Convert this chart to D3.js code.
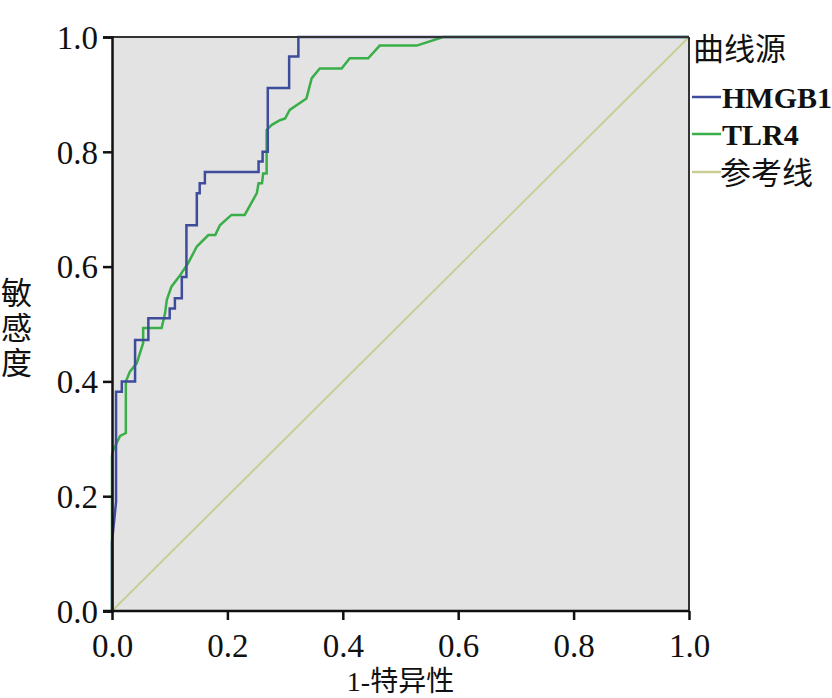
<!DOCTYPE html>
<html><head><meta charset="utf-8">
<script src="https://cdn.jsdelivr.net/npm/d3@7"></script>
<style>body{margin:0;background:#fff;}svg{display:block;}</style>
</head><body>
<svg id="c" width="832" height="698"></svg>
<script>
const xTicks = [0, 0.2, 0.4, 0.6, 0.8, 1.0];
const yTicks = [0, 0.2, 0.4, 0.6, 0.8, 1.0];
const seriesNames = ["HMGB1", "TLR4", "参考线"];
const seriesColors = ["#3f4c9c", "#3aae48", "#c8ce96"];
const hmgb1 = [[0,0],[0,0.12],[0.007,0.19],[0.007,0.382],[0.017,0.382],[0.017,0.40],[0.04,0.40],[0.04,0.472],[0.063,0.472],[0.063,0.51],[0.10,0.51],[0.10,0.527],[0.109,0.527],[0.109,0.545],[0.121,0.545],[0.121,0.582],[0.129,0.582],[0.129,0.672],[0.147,0.672],[0.147,0.728],[0.152,0.728],[0.152,0.745],[0.161,0.745],[0.161,0.765],[0.254,0.765],[0.254,0.783],[0.261,0.783],[0.261,0.80],[0.27,0.80],[0.27,0.911],[0.307,0.911],[0.307,0.966],[0.323,0.966],[0.323,1],[1,1]];
const tlr4 = [[0,0],[0,0.27],[0.002,0.28],[0.014,0.305],[0.024,0.31],[0.024,0.40],[0.031,0.417],[0.043,0.432],[0.054,0.467],[0.054,0.493],[0.086,0.493],[0.092,0.519],[0.095,0.542],[0.103,0.565],[0.118,0.585],[0.132,0.606],[0.147,0.635],[0.167,0.655],[0.179,0.655],[0.187,0.672],[0.207,0.69],[0.23,0.69],[0.251,0.728],[0.254,0.745],[0.26,0.745],[0.262,0.762],[0.268,0.762],[0.268,0.838],[0.277,0.847],[0.291,0.855],[0.30,0.858],[0.308,0.873],[0.337,0.893],[0.346,0.928],[0.36,0.945],[0.398,0.945],[0.412,0.963],[0.444,0.963],[0.464,0.985],[0.528,0.985],[0.574,1],[1,1]];
const refLine = [[0,0],[1,1]];
const yTitleChars = ["敏", "感", "度"];

const svg = d3.select("#c");
const L = 112, R = 689, T = 37, B = 611;
const x = d3.scaleLinear().domain([0,1]).range([L,R]);
const y = d3.scaleLinear().domain([0,1]).range([B,T]);

svg.append("rect").attr("x",L).attr("y",T).attr("width",R-L).attr("height",B-T).attr("fill","#e3e3e3");

const line = d3.line().x(d=>x(d[0])).y(d=>y(d[1]));
const data = [hmgb1, tlr4, refLine];
[2,1,0].forEach(i=>{
  svg.append("path").datum(data[i]).attr("d",line).attr("fill","none")
    .attr("stroke",seriesColors[i]).attr("stroke-width", i===2?2:2.5)
    .attr("stroke-linejoin","miter");
});

svg.append("line").attr("x1",L).attr("x2",R).attr("y1",T).attr("y2",T).attr("stroke","#333").attr("stroke-width",2);
svg.append("line").attr("x1",R).attr("x2",R).attr("y1",T).attr("y2",B).attr("stroke","#333").attr("stroke-width",2);

const serif = "'Liberation Serif','Times New Roman',serif";
const mixed = "'Liberation Serif','Noto Sans CJK SC',serif";
const xa = svg.append("g").attr("transform",`translate(0,${B})`)
  .call(d3.axisBottom(x).tickValues(xTicks).tickFormat(d3.format(".1f")).tickSize(9).tickPadding(14));
const ya = svg.append("g").attr("transform",`translate(${L},0)`)
  .call(d3.axisLeft(y).tickValues(yTicks).tickFormat(d3.format(".1f")).tickSize(9).tickPadding(5));
[xa,ya].forEach(g=>{
  g.select(".domain").attr("stroke","#111").attr("stroke-width",2.5);
  g.selectAll(".tick line").attr("stroke","#111").attr("stroke-width",2.5);
  g.selectAll(".tick text").attr("font-family",serif).attr("font-size",33).attr("fill","#111");
});
xa.select(".domain").attr("d",`M${L-9},0H${R}`);
ya.selectAll(".tick text").attr("dy","0.34em");

svg.append("text").attr("x",(L+R)/2).attr("y",691).attr("text-anchor","middle")
  .attr("font-family",mixed).attr("font-size",28).attr("fill","#111").text("1-特异性");
yTitleChars.forEach((ch,i)=>{
  svg.append("text").attr("x",1).attr("y",304+i*35)
    .attr("font-family",mixed).attr("font-size",31).attr("fill","#111").text(ch);
});

const lg = svg.append("g");
lg.append("text").attr("x",693).attr("y",60).attr("font-family",mixed).attr("font-size",31).attr("fill","#111").text("曲线源");
const ly = [97, 134, 172];
seriesNames.forEach((n,i)=>{
  lg.append("line").attr("x1",692).attr("x2",721).attr("y1",ly[i]).attr("y2",ly[i]).attr("stroke",seriesColors[i]).attr("stroke-width",2.5);
  const cjk = /[\u4e00-\u9fff]/.test(n);
  lg.append("text").attr("x",cjk?720:722).attr("y",ly[i]+ (cjk?12:11))
    .attr("font-family", mixed)
    .attr("font-size", cjk?31:30).attr("font-weight", cjk?"normal":"bold").attr("fill","#111").text(n);
});
</script>
</body></html>
